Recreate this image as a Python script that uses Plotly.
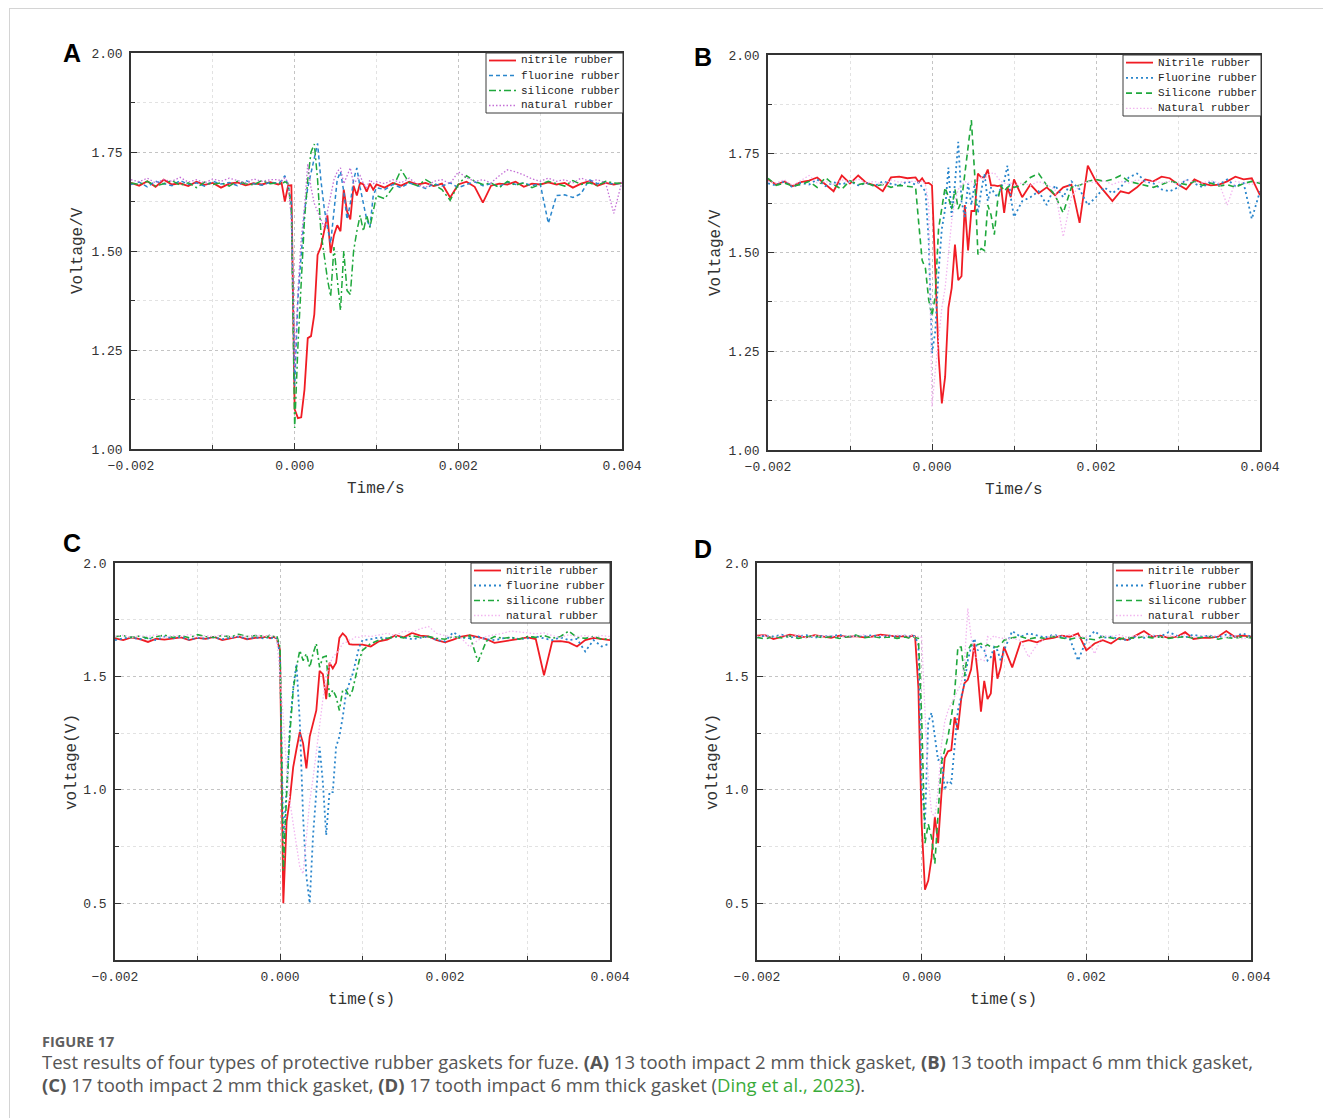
import plotly.graph_objects as go

# The page body has an 8px margin, so the figure is sized to fit inside the window
OFF = 8
W, H = 1331 - OFF, 1118 - OFF

# ---------------- data (time in ms, voltage in V) ----------------
TIME_MS = [
    -2.0, -1.9, -1.8, -1.7, -1.6, -1.5, -1.4, -1.3, -1.2, -1.1, -1.0, -0.9, -0.8, -0.7, -0.6, -0.5, -0.4, -0.3,
    -0.20, -0.16, -0.12, -0.08, -0.04,
    0.00, 0.04, 0.08, 0.12, 0.16, 0.20, 0.24, 0.28, 0.32, 0.36,
    0.40, 0.44, 0.48, 0.52, 0.56, 0.60, 0.64, 0.68, 0.72, 0.76,
    0.80, 0.84, 0.88, 0.92, 0.96, 1.00,
    1.1, 1.2, 1.3, 1.4, 1.5, 1.6, 1.7, 1.8, 1.9, 2.0,
    2.1, 2.2, 2.3, 2.4, 2.5, 2.6, 2.7, 2.8, 2.9, 3.0,
    3.1, 3.2, 3.3, 3.4, 3.5, 3.6, 3.7, 3.8, 3.9, 4.0,
]

# Panel A
A_NITRILE = [
    1.672, 1.665, 1.676, 1.662, 1.680, 1.668, 1.671, 1.664, 1.675, 1.667, 1.672, 1.660, 1.670, 1.673, 1.666, 1.671, 1.668, 1.674,
    1.668, 1.672, 1.625, 1.665, 1.666,
    1.10, 1.078, 1.080, 1.15, 1.28, 1.285, 1.34, 1.49, 1.51, 1.55,
    1.59, 1.495, 1.54, 1.565, 1.55, 1.655, 1.60, 1.58, 1.665, 1.64,
    1.672, 1.668, 1.650, 1.670, 1.655, 1.668,
    1.660, 1.672, 1.665, 1.675, 1.668, 1.672, 1.664, 1.670, 1.635, 1.668,
    1.675, 1.662, 1.622, 1.665, 1.670, 1.668, 1.675, 1.662, 1.670, 1.668,
    1.673, 1.668, 1.672, 1.660, 1.670, 1.676, 1.665, 1.672, 1.668, 1.672,
]
A_FLUORINE = [
    1.668, 1.674, 1.662, 1.676, 1.670, 1.665, 1.678, 1.668, 1.672, 1.664, 1.676, 1.669, 1.673, 1.665, 1.678, 1.670, 1.666, 1.674,
    1.670, 1.678, 1.690, 1.665, 1.62,
    1.16, 1.38, 1.50, 1.60, 1.66, 1.70, 1.74, 1.772, 1.68, 1.61,
    1.56, 1.52, 1.60, 1.68, 1.70, 1.65, 1.58, 1.62, 1.68, 1.71,
    1.66, 1.62, 1.58, 1.56, 1.64, 1.66,
    1.655, 1.668, 1.660, 1.672, 1.665, 1.658, 1.670, 1.664, 1.672, 1.660,
    1.668, 1.675, 1.665, 1.670, 1.662, 1.674, 1.668, 1.672, 1.665, 1.670,
    1.570, 1.640, 1.642, 1.635, 1.645, 1.680, 1.670, 1.675, 1.668, 1.672,
]
A_SILICONE = [
    1.672, 1.668, 1.676, 1.664, 1.670, 1.678, 1.666, 1.672, 1.660, 1.674, 1.668, 1.672, 1.664, 1.676, 1.670, 1.667, 1.678, 1.670,
    1.672, 1.668, 1.675, 1.670, 1.60,
    1.053, 1.26, 1.42, 1.58, 1.68, 1.75, 1.77, 1.68, 1.55, 1.49,
    1.43, 1.385, 1.51, 1.43, 1.35, 1.50, 1.40, 1.39, 1.50, 1.55,
    1.59, 1.55, 1.59, 1.56, 1.60, 1.64,
    1.632, 1.660, 1.705, 1.672, 1.665, 1.680, 1.668, 1.655, 1.628, 1.668,
    1.690, 1.676, 1.668, 1.672, 1.660, 1.676, 1.666, 1.672, 1.660, 1.668,
    1.676, 1.670, 1.664, 1.678, 1.668, 1.672, 1.665, 1.676, 1.672, 1.670,
]
A_NATURAL = [
    1.680, 1.675, 1.684, 1.672, 1.680, 1.676, 1.686, 1.674, 1.680, 1.672, 1.682, 1.676, 1.684, 1.678, 1.672, 1.682, 1.676, 1.680,
    1.680, 1.676, 1.685, 1.672, 1.58,
    1.20, 1.40, 1.53, 1.61, 1.72, 1.66, 1.62, 1.60, 1.58, 1.56,
    1.60, 1.64, 1.68, 1.70, 1.71, 1.67, 1.69, 1.71, 1.67, 1.68,
    1.69, 1.67, 1.66, 1.68, 1.67, 1.675,
    1.670, 1.680, 1.672, 1.684, 1.668, 1.660, 1.676, 1.680, 1.670, 1.700,
    1.685, 1.676, 1.680, 1.672, 1.690, 1.705, 1.700, 1.692, 1.682, 1.676,
    1.684, 1.676, 1.680, 1.672, 1.684, 1.676, 1.680, 1.672, 1.595, 1.676,
]

# Panel B
B_NITRILE = [
    1.685, 1.672, 1.680, 1.668, 1.678, 1.682, 1.690, 1.672, 1.655, 1.695, 1.675, 1.695, 1.676, 1.670, 1.655, 1.690, 1.692, 1.688,
    1.690, 1.678, 1.688, 1.675, 1.676,
    1.670, 1.45, 1.24, 1.118, 1.185, 1.36, 1.41, 1.52, 1.43, 1.44,
    1.62, 1.505, 1.605, 1.605, 1.70, 1.69, 1.69, 1.71, 1.67, 1.670,
    1.668, 1.670, 1.60, 1.665, 1.64, 1.685,
    1.640, 1.672, 1.650, 1.665, 1.645, 1.665, 1.672, 1.575, 1.720, 1.680,
    1.655, 1.630, 1.655, 1.650, 1.665, 1.685, 1.680, 1.692, 1.688, 1.672,
    1.660, 1.685, 1.675, 1.670, 1.672, 1.680, 1.692, 1.685, 1.688, 1.645,
]
B_FLUORINE = [
    1.675, 1.670, 1.680, 1.665, 1.676, 1.672, 1.685, 1.668, 1.678, 1.672, 1.680, 1.670, 1.676, 1.668, 1.680, 1.674, 1.670, 1.680,
    1.672, 1.678, 1.665, 1.655, 1.53,
    1.245, 1.30, 1.45, 1.56, 1.61, 1.715, 1.59, 1.675, 1.78, 1.63,
    1.59, 1.675, 1.62, 1.675, 1.60, 1.655, 1.70, 1.63, 1.665, 1.650,
    1.640, 1.665, 1.68, 1.72, 1.64, 1.59,
    1.630, 1.640, 1.655, 1.620, 1.670, 1.640, 1.680, 1.660, 1.620, 1.640,
    1.665, 1.650, 1.665, 1.690, 1.700, 1.680, 1.675, 1.660, 1.655, 1.665,
    1.685, 1.675, 1.665, 1.680, 1.672, 1.685, 1.668, 1.676, 1.585, 1.655,
]
B_SILICONE = [
    1.688, 1.670, 1.676, 1.668, 1.672, 1.680, 1.665, 1.690, 1.672, 1.660, 1.682, 1.672, 1.676, 1.668, 1.672, 1.665, 1.670, 1.668,
    1.665, 1.57, 1.48, 1.46, 1.38,
    1.34, 1.39, 1.56, 1.61, 1.665, 1.64, 1.61, 1.66, 1.61, 1.63,
    1.70, 1.76, 1.835, 1.70, 1.495, 1.51, 1.505, 1.62, 1.595, 1.545,
    1.63, 1.67, 1.655, 1.665, 1.670, 1.665,
    1.670, 1.690, 1.700, 1.670, 1.645, 1.600, 1.665, 1.670, 1.680, 1.685,
    1.680, 1.685, 1.695, 1.680, 1.675, 1.670, 1.665, 1.672, 1.680, 1.676,
    1.672, 1.680, 1.670, 1.676, 1.668, 1.672, 1.665, 1.675, 1.680, 1.675,
]
B_NATURAL = [
    1.680, 1.676, 1.684, 1.670, 1.682, 1.695, 1.676, 1.680, 1.672, 1.684, 1.678, 1.686, 1.676, 1.680, 1.672, 1.684, 1.678, 1.680,
    1.680, 1.676, 1.682, 1.672, 1.62,
    1.11, 1.20, 1.29, 1.36, 1.41, 1.50, 1.58, 1.63, 1.66, 1.67,
    1.68, 1.675, 1.68, 1.672, 1.680, 1.690, 1.685, 1.695, 1.700, 1.702,
    1.690, 1.680, 1.676, 1.672, 1.676, 1.670,
    1.676, 1.670, 1.680, 1.672, 1.660, 1.540, 1.640, 1.670, 1.680, 1.676,
    1.682, 1.672, 1.680, 1.676, 1.684, 1.678, 1.682, 1.676, 1.680, 1.672,
    1.684, 1.678, 1.676, 1.682, 1.676, 1.620, 1.680, 1.676, 1.672, 1.680,
]

# Panel C
C_NITRILE = [
    1.668, 1.660, 1.672, 1.664, 1.652, 1.666, 1.662, 1.668, 1.672, 1.660, 1.670, 1.666, 1.674, 1.660, 1.668, 1.675, 1.664, 1.670,
    1.672, 1.676, 1.668, 1.674, 1.668,
    1.615, 0.50, 0.86, 0.96, 1.10, 1.18, 1.255, 1.205, 1.095, 1.235,
    1.29, 1.35, 1.525, 1.51, 1.40, 1.56, 1.535, 1.56, 1.67, 1.69,
    1.675, 1.642, 1.640, 1.641, 1.640, 1.640,
    1.632, 1.655, 1.662, 1.682, 1.672, 1.692, 1.680, 1.676, 1.660, 1.650,
    1.662, 1.676, 1.682, 1.674, 1.665, 1.648, 1.655, 1.662, 1.666, 1.672,
    1.665, 1.505, 1.655, 1.656, 1.650, 1.632, 1.660, 1.670, 1.665, 1.660,
]
C_FLUORINE = [
    1.660, 1.668, 1.672, 1.664, 1.670, 1.660, 1.676, 1.668, 1.674, 1.662, 1.670, 1.666, 1.672, 1.664, 1.670, 1.676, 1.666, 1.672,
    1.668, 1.672, 1.666, 1.672, 1.668,
    1.60, 0.78, 1.00, 1.28, 1.45, 1.555, 1.30, 0.88, 0.62, 0.50,
    0.795, 0.99, 1.19, 1.03, 0.80, 0.99, 0.99, 1.19, 1.235, 1.32,
    1.425, 1.47, 1.51, 1.57, 1.63, 1.66,
    1.664, 1.672, 1.668, 1.676, 1.672, 1.664, 1.670, 1.676, 1.660, 1.655,
    1.695, 1.672, 1.668, 1.676, 1.664, 1.660, 1.668, 1.672, 1.664, 1.668,
    1.676, 1.668, 1.660, 1.672, 1.660, 1.665, 1.610, 1.660, 1.632, 1.645,
]
C_SILICONE = [
    1.675, 1.680, 1.672, 1.678, 1.668, 1.676, 1.682, 1.672, 1.680, 1.670, 1.684, 1.676, 1.672, 1.680, 1.674, 1.686, 1.676, 1.680,
    1.678, 1.672, 1.684, 1.676, 1.680,
    1.63, 0.645, 0.98, 1.25, 1.44, 1.54, 1.615, 1.57, 1.60, 1.54,
    1.60, 1.645, 1.54, 1.585, 1.59, 1.41, 1.44, 1.41, 1.35, 1.44,
    1.44, 1.41, 1.44, 1.50, 1.57, 1.615,
    1.645, 1.660, 1.668, 1.676, 1.670, 1.680, 1.672, 1.676, 1.668, 1.664,
    1.676, 1.668, 1.680, 1.565, 1.655, 1.676, 1.668, 1.672, 1.664, 1.676,
    1.672, 1.680, 1.668, 1.676, 1.700, 1.672, 1.668, 1.676, 1.664, 1.665,
]
C_NATURAL = [
    1.676, 1.682, 1.672, 1.680, 1.676, 1.684, 1.672, 1.680, 1.676, 1.686, 1.674, 1.680, 1.676, 1.684, 1.672, 1.680, 1.676, 1.682,
    1.680, 1.676, 1.684, 1.676, 1.672,
    1.50, 1.32, 1.10, 0.95, 0.85, 0.75, 0.66, 0.63, 0.81, 0.95,
    1.05, 1.175, 1.30, 1.40, 1.50, 1.55, 1.585, 1.60, 1.62, 1.645,
    1.650, 1.660, 1.665, 1.675, 1.672, 1.680,
    1.676, 1.684, 1.690, 1.680, 1.700, 1.695, 1.710, 1.720, 1.690, 1.680,
    1.672, 1.668, 1.630, 1.660, 1.676, 1.684, 1.690, 1.700, 1.696, 1.690,
    1.688, 1.692, 1.680, 1.672, 1.684, 1.676, 1.680, 1.672, 1.680, 1.676,
]

# Panel D
D_NITRILE = [
    1.680, 1.682, 1.665, 1.676, 1.684, 1.678, 1.672, 1.682, 1.676, 1.670, 1.680, 1.674, 1.678, 1.672, 1.676, 1.684, 1.680, 1.676,
    1.678, 1.672, 1.680, 1.676, 1.45,
    0.85, 0.56, 0.60, 0.70, 0.88, 0.765, 0.98, 1.14, 1.17, 1.175,
    1.32, 1.265, 1.40, 1.47, 1.485, 1.53, 1.645, 1.515, 1.345, 1.48,
    1.40, 1.425, 1.615, 1.49, 1.54, 1.63,
    1.540, 1.650, 1.660, 1.650, 1.665, 1.670, 1.680, 1.675, 1.690, 1.615,
    1.645, 1.660, 1.645, 1.670, 1.660, 1.680, 1.700, 1.675, 1.680, 1.670,
    1.675, 1.695, 1.665, 1.670, 1.670, 1.675, 1.700, 1.675, 1.680, 1.675,
]
D_FLUORINE = [
    1.672, 1.680, 1.676, 1.684, 1.672, 1.678, 1.682, 1.670, 1.680, 1.676, 1.684, 1.672, 1.680, 1.676, 1.682, 1.674, 1.680, 1.676,
    1.680, 1.674, 1.682, 1.676, 1.64,
    1.03, 0.85, 1.30, 1.34, 1.235, 1.13, 1.145, 1.00, 1.04, 1.03,
    1.19, 1.35, 1.41, 1.47, 1.57, 1.63, 1.667, 1.615, 1.63, 1.615,
    1.57, 1.585, 1.63, 1.615, 1.57, 1.615,
    1.700, 1.675, 1.690, 1.680, 1.672, 1.684, 1.676, 1.665, 1.570, 1.660,
    1.700, 1.670, 1.675, 1.665, 1.660, 1.675, 1.670, 1.680, 1.676, 1.695,
    1.680, 1.672, 1.684, 1.676, 1.680, 1.672, 1.684, 1.676, 1.690, 1.675,
]
D_SILICONE = [
    1.672, 1.665, 1.676, 1.670, 1.678, 1.668, 1.674, 1.680, 1.670, 1.676, 1.668, 1.674, 1.682, 1.670, 1.676, 1.670, 1.674, 1.668,
    1.674, 1.670, 1.676, 1.672, 1.668,
    1.32, 0.765, 0.85, 0.79, 0.675, 0.90, 1.12, 1.175, 1.235, 1.32,
    1.425, 1.63, 1.63, 1.50, 1.615, 1.64, 1.64, 1.64, 1.645, 1.63,
    1.64, 1.63, 1.63, 1.63, 1.64, 1.66,
    1.670, 1.676, 1.665, 1.672, 1.668, 1.676, 1.670, 1.664, 1.672, 1.668,
    1.662, 1.676, 1.670, 1.664, 1.672, 1.668, 1.676, 1.670, 1.674, 1.668,
    1.672, 1.676, 1.668, 1.672, 1.676, 1.664, 1.672, 1.668, 1.676, 1.670,
]
D_NATURAL = [
    1.676, 1.682, 1.672, 1.680, 1.676, 1.684, 1.670, 1.680, 1.676, 1.682, 1.672, 1.680, 1.676, 1.684, 1.672, 1.680, 1.676, 1.682,
    1.680, 1.676, 1.682, 1.674, 1.676,
    1.672, 1.35, 1.05, 0.90, 0.88, 1.00, 1.20, 1.30, 1.35, 1.38,
    1.41, 1.44, 1.47, 1.56, 1.80, 1.675, 1.60, 1.57, 1.575, 1.57,
    1.675, 1.665, 1.68, 1.67, 1.672, 1.665,
    1.668, 1.660, 1.585, 1.640, 1.670, 1.680, 1.676, 1.684, 1.672, 1.676,
    1.600, 1.680, 1.676, 1.684, 1.672, 1.680, 1.676, 1.682, 1.672, 1.680,
    1.676, 1.684, 1.672, 1.680, 1.676, 1.682, 1.672, 1.680, 1.665, 1.676,
]

NAMES_LOWER = ["nitrile rubber", "fluorine rubber", "silicone rubber", "natural rubber"]
NAMES_UPPER = ["Nitrile rubber", "Fluorine rubber", "Silicone rubber", "Natural rubber"]
X_TICKS = [-0.002, 0.0, 0.002, 0.004]
Y_TICKS_AB = [1.00, 1.25, 1.50, 1.75, 2.00]
Y_TICKS_CD = [0.5, 1.0, 1.5, 2.0]

# ---------------- styling ----------------
RED = "#f01c24"
BLUE = "#2a86cc"
GREEN = "#1fa83c"
PURPLE = "#c46fd6"
PINK = "#f2b6f0"
AXIS = "#333333"
MONO = "Liberation Mono"

T = [t / 1000.0 for t in TIME_MS]

PANELS = [
    dict(letter="A", letter_pos=(72, 53), box=(131, 53, 622, 449),
         yr=[1.0, 2.0], yt=Y_TICKS_AB, yfmt=".2f", ymin=0.125, ymin0=1.0,
         names=NAMES_LOWER, series=[A_NITRILE, A_FLUORINE, A_SILICONE, A_NATURAL],
         colors=[RED, BLUE, GREEN, PURPLE],
         dashes=["solid", "4px,3px", "7px,3px,2px,3px", "1.5px,2px"],
         widths=[1.8, 1.5, 1.5, 1.3],
         legbox=(486, 53, 623, 113),
         ytitle="Voltage/V", ytitle_pos=(78, 251), xtitle="Time/s", xtitle_pos=(376, 489)),
    dict(letter="B", letter_pos=(703, 57), box=(768, 55, 1260, 450),
         yr=[1.0, 2.0], yt=Y_TICKS_AB, yfmt=".2f", ymin=0.125, ymin0=1.0,
         names=NAMES_UPPER, series=[B_NITRILE, B_FLUORINE, B_SILICONE, B_NATURAL],
         colors=[RED, BLUE, GREEN, PINK],
         dashes=["solid", "2px,3px", "6px,4px", "1.5px,2px"],
         widths=[1.8, 1.8, 1.6, 1.3],
         legbox=(1123, 55, 1261, 116),
         ytitle="Voltage/V", ytitle_pos=(716, 253), xtitle="Time/s", xtitle_pos=(1014, 490)),
    dict(letter="C", letter_pos=(72, 543), box=(115, 563, 610, 960),
         yr=[0.25, 2.0], yt=Y_TICKS_CD, yfmt=".1f", ymin=0.25, ymin0=0.25,
         names=NAMES_LOWER, series=[C_NITRILE, C_FLUORINE, C_SILICONE, C_NATURAL],
         colors=[RED, BLUE, GREEN, PINK],
         dashes=["solid", "2px,3px", "6px,3px,2px,3px", "1.5px,2px"],
         widths=[1.8, 1.8, 1.6, 1.3],
         legbox=(471, 563, 610, 623),
         ytitle="voltage(V)", ytitle_pos=(72, 762), xtitle="time(s)", xtitle_pos=(361, 1000)),
    dict(letter="D", letter_pos=(703, 549), box=(757, 563, 1251, 960),
         yr=[0.25, 2.0], yt=Y_TICKS_CD, yfmt=".1f", ymin=0.25, ymin0=0.25,
         names=NAMES_LOWER, series=[D_NITRILE, D_FLUORINE, D_SILICONE, D_NATURAL],
         colors=[RED, BLUE, GREEN, PINK],
         dashes=["solid", "2px,3px", "6px,4px", "1.5px,2px"],
         widths=[1.8, 1.8, 1.6, 1.3],
         legbox=(1113, 563, 1251, 623),
         ytitle="voltage(V)", ytitle_pos=(713, 762), xtitle="time(s)", xtitle_pos=(1003, 1000)),
]


def fx(x):
    # window pixel -> paper fraction
    return (x - OFF) / W


def fy(y):
    return 1 - (y - OFF) / H


fig = go.Figure()
shapes = []
annotations = []
layout = {}

for i, p in enumerate(PANELS):
    k = "" if i == 0 else str(i + 1)
    xa, ya = "x" + k, "y" + k
    for name, vals, col, dash, wd in zip(p["names"], p["series"], p["colors"], p["dashes"], p["widths"]):
        if len(vals) != len(T):
            raise ValueError(f"{p['letter']} {name}: {len(vals)} != {len(T)}")
        fig.add_trace(go.Scatter(x=T, y=vals, mode="lines", name=name, showlegend=False,
                                 xaxis=xa, yaxis=ya,
                                 line=dict(color=col, width=wd, dash=dash)))
    x0, y0, x1, y1 = p["box"]
    common = dict(showline=True, mirror=True, linecolor=AXIS, linewidth=1.5,
                  ticks="inside", ticklen=6, tickcolor=AXIS, tickwidth=1,
                  showgrid=True, gridcolor="#c4c4c4", griddash="dot", gridwidth=1,
                  zeroline=False, tickfont=dict(family=MONO, size=13, color="#333"),
                  ticklabelstandoff=4, automargin=False)
    layout["xaxis" + k] = dict(domain=[fx(x0), fx(x1)], anchor=ya, range=[-0.002, 0.004],
                               tickvals=X_TICKS, tickformat=".3f",
                               minor=dict(dtick=0.001, tick0=-0.002, ticks="inside", ticklen=4,
                                          tickcolor=AXIS, showgrid=True, gridcolor="#e2e2e2",
                                          griddash="dot"),
                               **common)
    layout["yaxis" + k] = dict(domain=[fy(y1), fy(y0)], anchor=xa, range=p["yr"],
                               tickvals=p["yt"], tickformat=p["yfmt"],
                               minor=dict(dtick=p["ymin"], tick0=p["ymin0"], ticks="inside", ticklen=4,
                                          tickcolor=AXIS, showgrid=True, gridcolor="#e2e2e2",
                                          griddash="dot"),
                               **common)

    # panel letter
    lx, ly = p["letter_pos"]
    annotations.append(dict(x=fx(lx), y=fy(ly), xref="paper", yref="paper", text="<b>%s</b>" % p["letter"],
                            showarrow=False, xanchor="center", yanchor="middle",
                            font=dict(family="Liberation Sans", size=25, color="black")))
    # axis titles
    tx, ty = p["ytitle_pos"]
    annotations.append(dict(x=fx(tx), y=fy(ty), xref="paper", yref="paper", text=p["ytitle"],
                            textangle=-90, showarrow=False, xanchor="center", yanchor="middle",
                            font=dict(family=MONO, size=16, color="#333")))
    tx, ty = p["xtitle_pos"]
    annotations.append(dict(x=fx(tx), y=fy(ty), xref="paper", yref="paper", text=p["xtitle"],
                            showarrow=False, xanchor="center", yanchor="middle",
                            font=dict(family=MONO, size=16, color="#333")))

    # legend box (drawn)
    bx0, by0, bx1, by1 = p["legbox"]
    shapes.append(dict(type="rect", xref="paper", yref="paper", x0=fx(bx0), x1=fx(bx1), y0=fy(by1), y1=fy(by0),
                       line=dict(color="#3a3a3a", width=1), fillcolor="white", layer="above"))
    step = (by1 - by0) / 4.0
    for j, (name, col, dash, wd) in enumerate(zip(p["names"], p["colors"], p["dashes"], p["widths"])):
        yy = by0 + step * (j + 0.5)
        shapes.append(dict(type="line", xref="paper", yref="paper", x0=fx(bx0 + 3), x1=fx(bx0 + 30),
                           y0=fy(yy), y1=fy(yy), line=dict(color=col, width=wd, dash=dash), layer="above"))
        annotations.append(dict(x=fx(bx0 + 33), y=fy(yy), xref="paper", yref="paper", text=name,
                                showarrow=False, xanchor="left", yanchor="middle",
                                font=dict(family=MONO, size=11, color="#222")))

# page border lines
shapes.append(dict(type="line", xref="paper", yref="paper", x0=fx(9), x1=1.0, y0=fy(8.5), y1=fy(8.5),
                   line=dict(color="#d4d4d4", width=1)))
shapes.append(dict(type="line", xref="paper", yref="paper", x0=fx(9.5), x1=fx(9.5), y0=fy(8.5), y1=0.0,
                   line=dict(color="#d4d4d4", width=1)))

# caption
CAP = "Open Sans"
annotations.append(dict(x=fx(40), y=fy(1041), xref="paper", yref="paper", text="<b>FIGURE 17</b>",
                        showarrow=False, xanchor="left", yanchor="middle",
                        font=dict(family=CAP, size=14.5, color="#5f5f5f")))
annotations.append(dict(x=fx(40), y=fy(1061), xref="paper", yref="paper",
                        text="Test results of four types of protective rubber gaskets for fuze. <b>(A)</b> 13 tooth impact 2 mm thick gasket, <b>(B)</b> 13 tooth impact 6 mm thick gasket,",
                        showarrow=False, xanchor="left", yanchor="middle",
                        font=dict(family=CAP, size=18.5, color="#555555")))
annotations.append(dict(x=fx(40), y=fy(1084), xref="paper", yref="paper",
                        text="<b>(C)</b> 17 tooth impact 2 mm thick gasket, <b>(D)</b> 17 tooth impact 6 mm thick gasket (<span style='color:#3aab3a'>Ding et al., 2023</span>).",
                        showarrow=False, xanchor="left", yanchor="middle",
                        font=dict(family=CAP, size=18.5, color="#555555")))

fig.update_layout(width=W, height=H, margin=dict(l=0, r=0, t=0, b=0, pad=0),
                  paper_bgcolor="white", plot_bgcolor="white", showlegend=False,
                  shapes=shapes, annotations=annotations, **layout)

fig.write_html("out.html", config={"displayModeBar": False})
